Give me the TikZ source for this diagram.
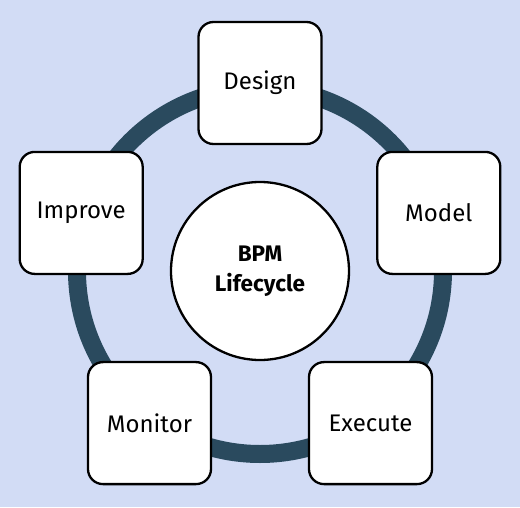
\documentclass[tikz,border=0pt]{standalone}
\usepackage{fontspec}
\setmainfont{Fira Sans}
\usepackage{tikz}
\usetikzlibrary{positioning}

\definecolor{bgblue}{RGB}{210,220,245}
\definecolor{ringteal}{RGB}{42,74,94}

\begin{document}
\begin{tikzpicture}[x=1pt,y=1pt,
  phase/.style={draw,line width=2.3pt,fill=white,rounded corners=15pt,
    minimum width=123pt,minimum height=122pt,inner sep=0pt,
    font=\fontsize{24}{28}\selectfont},
  hub/.style={draw,line width=2.3pt,fill=white,circle,minimum size=178pt,
    inner sep=0pt,align=center,font=\fontsize{22.5}{30}\selectfont\bfseries}]
\fill[bgblue] (-260,271) rectangle (260,-236);
\useasboundingbox (-260,271) rectangle (260,-236);
\draw[ringteal,line width=18pt] (0,0) circle (183);

\node[hub] (C) at (0,0) {BPM\\Lifecycle};

\node[phase] (D) at (90:188) {Design};
\node[phase] (M) at (18:188) {Model};
\node[phase] (E) at (-54:188) {Execute};
\node[phase] (O) at (-126:188) {Monitor};
\node[phase] (I) at (162:188) {Improve};
\end{tikzpicture}
\end{document}
